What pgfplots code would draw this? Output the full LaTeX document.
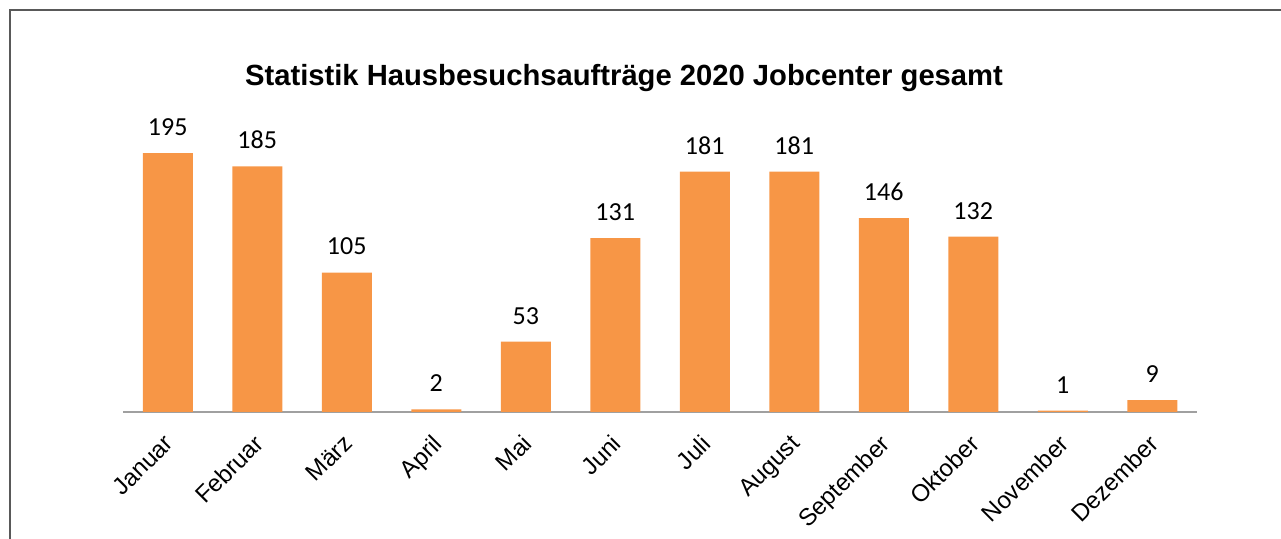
\documentclass[border=0pt]{standalone}
\usepackage{fontspec}
\setmainfont{Liberation Sans}
\newfontfamily\calibri{Carlito}
\usepackage{pgfplots}
\pgfplotsset{compat=1.18}
\definecolor{barorange}{HTML}{F79646}
\definecolor{axisgray}{HTML}{A0A0A0}
\definecolor{framegray}{HTML}{595959}
\begin{document}
\begin{tikzpicture}
% page: 1281 x 539 px, 1 px = 0.5 pt
\useasboundingbox (0,0) rectangle (640.5pt,269.5pt);
\draw[framegray, line width=1pt] (4.75pt,0pt) -- (4.75pt,264.5pt) -- (640.5pt,264.5pt);
\begin{axis}[
  at={(61.5pt,63.5pt)}, anchor=south west,
  scale only axis, width=537pt, height=148.75pt,
  ybar, bar width=25pt,
  xmin=-0.5, xmax=11.5, ymin=0, ymax=224,
  axis x line*=bottom, axis y line=none,
  x axis line style={axisgray, line width=1pt, -},
  xtick=data,
  xticklabels={Januar,Februar,März,April,Mai,Juni,Juli,August,September,Oktober,November,Dezember},
  xtick style={draw=none},
  xticklabel style={rotate=45, anchor=north east, inner sep=0pt, font=\fontsize{12}{14}\selectfont, xshift=-6pt, yshift=-2.6pt},
  nodes near coords,
  /pgf/number format/assume math mode=true,
  nodes near coords style={font=\calibri\fontsize{13}{15}\selectfont, anchor=south, inner sep=0pt, yshift=8.5pt, black},
  title={Statistik Hausbesuchsaufträge 2020 Jobcenter gesamt},
  title style={font=\bfseries\fontsize{14.6}{17}\selectfont, at={(0.4665,1)}, anchor=center, yshift=12.25pt},
  clip=false,
]
\addplot[fill=barorange, draw=none] coordinates {
(0,195) (1,185) (2,105) (3,2) (4,53) (5,131) (6,181) (7,181) (8,146) (9,132) (10,1) (11,9)
};
\end{axis}
\end{tikzpicture}
\end{document}
